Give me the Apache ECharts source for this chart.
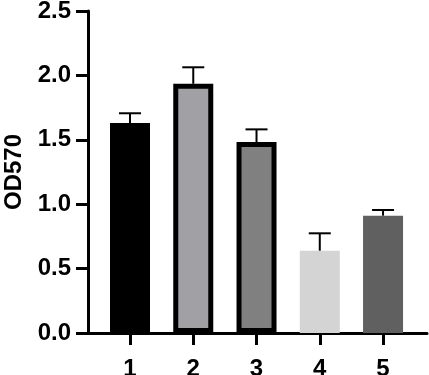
<!DOCTYPE html>
<html>
<head>
<meta charset="utf-8">
<script src="https://cdn.jsdelivr.net/npm/echarts@6/dist/echarts.min.js"></script>
<style>
  html, body { margin: 0; padding: 0; background: #fff; }
  #chart { width: 429px; height: 375px; }
</style>
</head>
<body>
<div id="chart"></div>
<script>
// groups on the x axis
var groups = [1, 2, 3, 4, 5];
// mean OD570 per group
var means = [1.63, 1.935, 1.483, 0.639, 0.911];
// upper error (SD)
var errors = [0.076, 0.128, 0.098, 0.135, 0.044];
var yTicks = [0, 0.5, 1.0, 1.5, 2.0, 2.5];

var fills = ['#000000', '#a1a1a5', '#808080', '#d4d4d4', '#606060'];
var borders = [0, 5, 5, 0, 0];

var font = "Liberation Sans";

var barData = groups.map(function (g, i) {
    return {
        value: [g, means[i]],
        itemStyle: {
            color: fills[i],
            borderColor: '#000',
            borderWidth: borders[i]
        }
    };
});
var errData = groups.map(function (g, i) {
    return [g, means[i], errors[i]];
});

var myChart = echarts.init(document.getElementById('chart'));
var option = {
    animation: false,
    backgroundColor: '#fff',
    grid: {
        left: 88,
        right: 2,
        top: 11,
        bottom: 42,
        containLabel: false,
        outerBoundsMode: 'none'
    },
    xAxis: {
        type: 'value',
        min: 0.336,
        max: 5.695,
        axisLine: { lineStyle: { color: '#000', width: 3 } },
        axisTick: {
            length: 12,
            customValues: groups,
            lineStyle: { color: '#000', width: 3 }
        },
        axisLabel: {
            customValues: groups,
            margin: 24,
            color: '#000',
            fontSize: 24,
            fontWeight: 'bold',
            fontFamily: font
        },
        splitLine: { show: false }
    },
    yAxis: {
        type: 'value',
        min: yTicks[0],
        max: yTicks[yTicks.length - 1],
        interval: 0.5,
        name: 'OD570',
        nameLocation: 'middle',
        nameGap: 61,
        nameTextStyle: {
            color: '#000',
            fontSize: 24,
            fontWeight: 'bold',
            fontFamily: font
        },
        axisLine: { show: true, lineStyle: { color: '#000', width: 3 } },
        axisTick: { show: true, length: 12, lineStyle: { color: '#000', width: 3 } },
        axisLabel: {
            margin: 17,
            color: '#000',
            fontSize: 24,
            fontWeight: 'bold',
            fontFamily: font,
            formatter: function (v) { return v.toFixed(1); }
        },
        splitLine: { show: false }
    },
    series: [{
        type: 'bar',
        barWidth: 40,
        data: barData,
        z: 2
    }, {
        // error bars (upper only)
        type: 'custom',
        z: 3,
        data: errData,
        renderItem: function (params, api) {
            var base = api.coord([api.value(0), api.value(1)]);
            var top = api.coord([api.value(0), api.value(1) + api.value(2)]);
            var half = 11;
            return {
                type: 'group',
                children: [{
                    type: 'line',
                    shape: { x1: base[0], y1: base[1], x2: top[0], y2: top[1] },
                    style: { stroke: '#000', lineWidth: 2 }
                }, {
                    type: 'line',
                    shape: { x1: top[0] - half, y1: top[1], x2: top[0] + half, y2: top[1] },
                    style: { stroke: '#000', lineWidth: 2 }
                }]
            };
        }
    }]
};
myChart.setOption(option);
</script>
</body>
</html>
